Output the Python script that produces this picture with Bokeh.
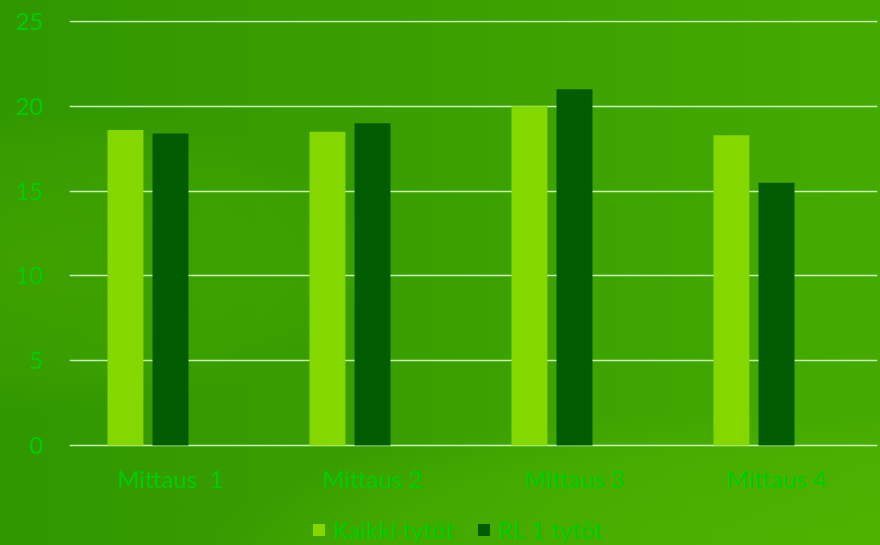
from bokeh.plotting import figure
from bokeh.models import FactorRange, Range1d, Legend, LegendItem, ColumnDataSource, FixedTicker
from bokeh.transform import dodge
from bokeh.embed import file_html
from bokeh.resources import INLINE

categories = ["Mittaus\u00a0 1", "Mittaus 2", "Mittaus 3", "Mittaus 4"]
kaikki = [18.6, 18.5, 20.0, 18.3]
rl1 = [18.4, 19.0, 21.0, 15.5]
series_names = ["Kaikki tytöt", "RL 1 tytöt"]
y_ticks = [0, 5, 10, 15, 20, 25]

FONT = "Lato"
TEXT = "#00cc00"

src = ColumnDataSource(dict(cat=categories, kaikki=kaikki, rl1=rl1))

# frame spans from y=20px (value 25.06) down to the bottom edge; 16.96 px per unit
p = figure(width=880, height=545, x_range=FactorRange(factors=categories, range_padding=0),
           y_range=Range1d(-5.895, 25.06), output_backend="svg", toolbar_location=None,
           min_border_left=69, min_border_right=3, min_border_top=20, min_border_bottom=0)

p.background_fill_alpha = 0
p.border_fill_alpha = 0
p.outline_line_color = None
p.styles = {"background": (
    "radial-gradient(ellipse 560px 150px at 760px 560px, rgba(90,190,0,0.45) 0%, rgba(90,190,0,0.30) 70%, rgba(90,190,0,0) 100%), "
    "radial-gradient(ellipse 340px 150px at 40px 260px, rgba(80,175,0,0.40) 0%, rgba(80,175,0,0.22) 75%, rgba(80,175,0,0) 100%), "
    "linear-gradient(90deg, #319700 0%, #3aa000 50%, #45aa00 100%)")}

r1 = p.vbar(x=dodge("cat", -0.223, range=p.x_range), top="kaikki", width=0.178, source=src,
            fill_color="#84d800", line_color=None)
r2 = p.vbar(x=dodge("cat", 0.0, range=p.x_range), top="rl1", width=0.178, source=src,
            fill_color="#025c02", line_color=None)

p.xgrid.grid_line_color = None
p.ygrid.grid_line_color = "#c8f5b4"
p.ygrid.grid_line_width = 1.5

p.yaxis.ticker = FixedTicker(ticks=y_ticks)
for ax in (p.xaxis, p.yaxis):
    ax.axis_line_color = None
    ax.major_tick_line_color = None
    ax.minor_tick_line_color = None
    ax.major_tick_out = 0
    ax.major_tick_in = 0
    ax.major_label_text_color = TEXT
    ax.major_label_text_font = FONT
    ax.major_label_text_font_size = "24px"
p.yaxis.major_label_standoff = 26
p.xaxis.major_label_standoff = 18
p.xaxis.fixed_location = 0

legend = Legend(items=[LegendItem(label=series_names[0], renderers=[r1]),
                       LegendItem(label=series_names[1], renderers=[r2])],
                orientation="horizontal", location=(242, 1),
                padding=0, margin=0, spacing=22, label_standoff=7,
                glyph_width=15, glyph_height=15,
                label_text_font=FONT, label_text_font_size="24px", label_text_color=TEXT,
                background_fill_alpha=0, border_line_color=None)
p.add_layout(legend)

open("out.html", "w").write(file_html(p, INLINE))
